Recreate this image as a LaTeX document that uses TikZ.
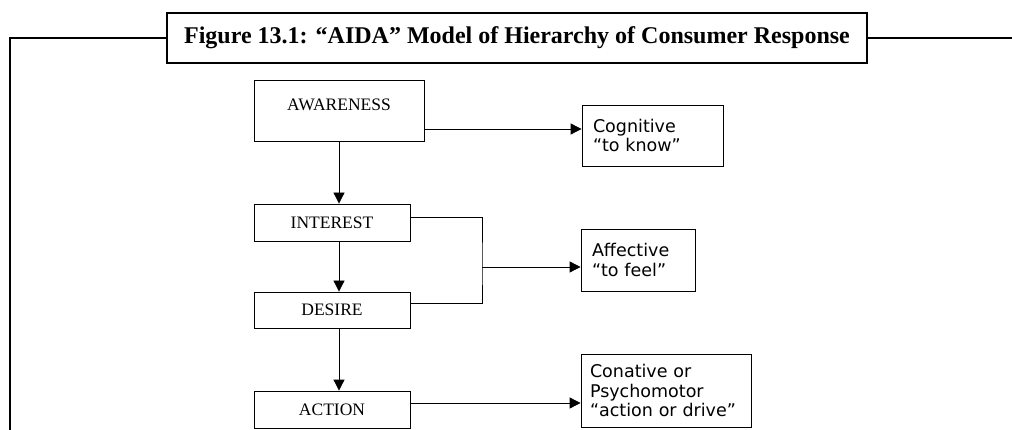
\documentclass[tikz,border=0pt]{standalone}
\usepackage{fontspec}
\setmainfont{Liberation Serif}
\newfontfamily\boxsans{DejaVu Sans}
\usetikzlibrary{arrows.meta}
\tikzstyle{stage}=[draw, line width=0.8pt, font=\fontsize{17.5}{20}\selectfont]
\tikzstyle{resp}=[draw, line width=0.8pt, align=left, inner xsep=11pt, font=\boxsans\fontsize{17.5}{19.5}\selectfont]
\tikzstyle{arr}=[-{Triangle[length=11pt,width=11pt]}, line width=0.8pt]

\begin{document}
\begin{tikzpicture}[x=1pt, y=-1pt]
		\useasboundingbox (0,0) rectangle (1012,430);
		\node[draw, line width=2pt, minimum width=700pt, minimum height=50pt, font=\bfseries\fontsize{24}{26}\selectfont] (title) at (517,38) {Figure 13.1: “AIDA” Model of Hierarchy of Consumer Response};
		\coordinate (FL) at (10,430);
		\coordinate (FR) at (1012,38);
		\draw[line width=2.5pt] (title.west) -| (FL);
		\draw[line width=2.5pt] (title.east) -- (FR);
		\node[stage, minimum width=170pt, minimum height=61pt, text height=12pt, text depth=12pt] (aware) at (339,110.5) {AWARENESS};
		\node[stage, minimum width=156pt, minimum height=37pt] (interest) at (332,222.5) {INTEREST};
		\node[stage, minimum width=156pt, minimum height=36pt] (desire) at (332,310) {DESIRE};
		\node[stage, minimum width=156pt, minimum height=37pt] (action) at (332,409.5) {ACTION};
		\node[resp, text width=119pt, minimum height=61pt] (cogn) at (652.5,135.5) {Cognitive\\“to know”};
		\node[resp, text width=92pt, minimum height=62pt] (affect) at (638,260) {Affective\\“to feel”};
		\node[resp, inner xsep=9pt, text width=152pt, minimum height=73pt] (conat) at (666,390.5) {Conative or\\Psychomotor\\“action or drive”};
		\coordinate (K1) at (424,129);
		\coordinate (K2) at (410,217);
		\coordinate (K3) at (410,303);
		\coordinate (J) at (482,267);
		\coordinate (K4) at (410,403);
		\draw[arr] (aware.south) -- (aware.south |- interest.north);
		\draw[arr] (aware.south |- interest.south) -- (aware.south |- desire.north);
		\draw[arr] (aware.south |- desire.south) -- (aware.south |- action.north);
		\draw[arr] (K1) -- (K1 -| cogn.west);
		\draw[line width=0.8pt] (K2) -| (J) |- (K3);
		\draw[arr] (J) -- (J -| affect.west);
		\draw[arr] (K4) -- (K4 -| conat.west);
		\end{tikzpicture}
\end{document}
